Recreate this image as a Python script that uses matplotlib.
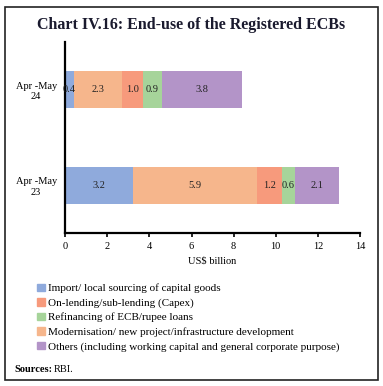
import matplotlib
matplotlib.use('Agg')
import matplotlib.pyplot as plt
from matplotlib.patches import Rectangle, Patch

plt.rcParams['font.family'] = ['Liberation Serif', 'DejaVu Serif']

# data
periods = ['Apr -May\n23', 'Apr -May\n24']
segments = ['Import/ local sourcing of capital goods',
            'Modernisation/ new project/infrastructure development',
            'On-lending/sub-lending (Capex)',
            'Refinancing of ECB/rupee loans',
            'Others (including working capital and general corporate purpose)']
values = {
    'Import/ local sourcing of capital goods': [3.2, 0.4],
    'Modernisation/ new project/infrastructure development': [5.9, 2.3],
    'On-lending/sub-lending (Capex)': [1.2, 1.0],
    'Refinancing of ECB/rupee loans': [0.6, 0.9],
    'Others (including working capital and general corporate purpose)': [2.1, 3.8],
}
colors = {
    'Import/ local sourcing of capital goods': '#8faadc',
    'Modernisation/ new project/infrastructure development': '#f6b68c',
    'On-lending/sub-lending (Capex)': '#f79a7c',
    'Refinancing of ECB/rupee loans': '#a6d49a',
    'Others (including working capital and general corporate purpose)': '#b394c8',
}
legend_order = ['Import/ local sourcing of capital goods',
                'On-lending/sub-lending (Capex)',
                'Refinancing of ECB/rupee loans',
                'Modernisation/ new project/infrastructure development',
                'Others (including working capital and general corporate purpose)']

fig = plt.figure(figsize=(3.83, 3.86), dpi=100)
ax = fig.add_axes([0.170, 0.396, 0.770, 0.495])

ypos = list(range(len(periods)))
left = [0.0] * len(periods)
for seg in segments:
    vals = values[seg]
    bars = ax.barh(ypos, vals, left=left, height=0.39, color=colors[seg])
    for b, v in zip(bars, vals):
        ax.text(b.get_x() + b.get_width() / 2, b.get_y() + b.get_height() / 2,
                f'{v:.1f}', ha='center', va='center', fontsize=7.5, color='#222222')
    left = [l + v for l, v in zip(left, vals)]

ax.set_xlim(0, 14)
ax.set_ylim(-0.5, 1.5)
ax.set_xticks(range(0, 15, 2))
ax.set_yticks(ypos)
ax.set_yticklabels(periods, fontsize=7.5, multialignment='center')
ax.tick_params(axis='y', length=0, pad=6)
ax.tick_params(axis='x', labelsize=7.5, length=3, width=1.2, direction='out')
for s in ['top', 'right']:
    ax.spines[s].set_visible(False)
for s in ['left', 'bottom']:
    ax.spines[s].set_linewidth(1.6)
ax.set_xlabel('US$ billion', fontsize=7.5, labelpad=4)

handles = [Patch(color=colors[s]) for s in legend_order]
fig.legend(handles, legend_order, loc='upper left', bbox_to_anchor=(0.085, 0.277),
           frameon=False, fontsize=8, handlelength=0.7, handleheight=0.7,
           handletextpad=0.3, labelspacing=0.42, borderaxespad=0)

fig.text(0.5, 0.935, 'Chart IV.16: End-use of the Registered ECBs', ha='center',
         va='center', fontsize=11.5, fontweight='bold', color='#1a1a2e')
fig.text(0.037, 0.044, 'Sources:', fontsize=7.5, fontweight='bold', va='center')
fig.text(0.141, 0.044, 'RBI.', fontsize=7.5, va='center')

fig.patches.append(Rectangle((5 / 383, 6 / 386), 373 / 383, 373 / 386,
                             transform=fig.transFigure, fill=False,
                             edgecolor='#222222', linewidth=1.2))

fig.savefig('out.png', dpi=100)
